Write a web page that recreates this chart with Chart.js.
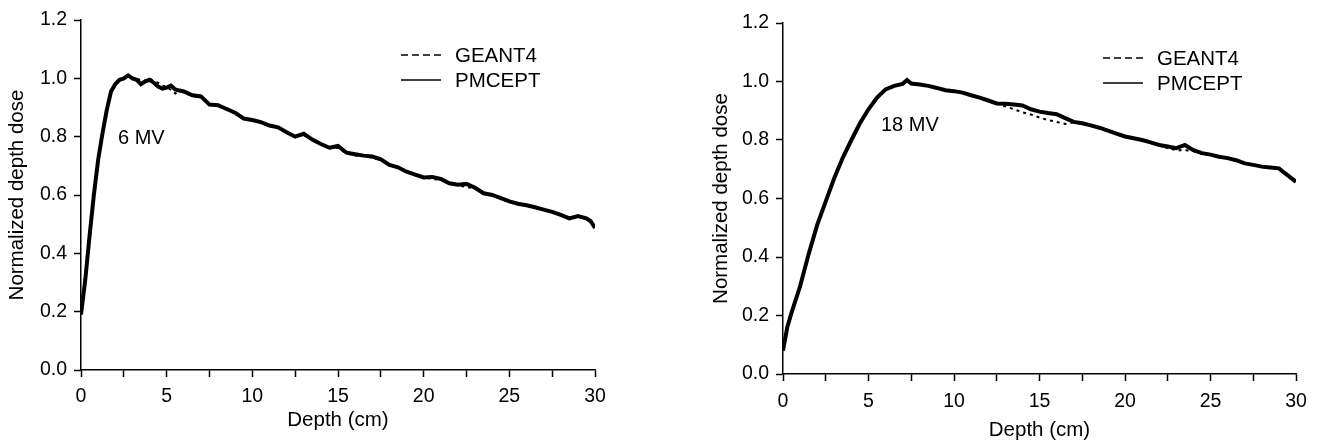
<!DOCTYPE html>
<html>
<head>
<meta charset="utf-8">
<script src="https://cdn.jsdelivr.net/npm/chart.js@4.4.1/dist/chart.umd.min.js"></script>
<style>
  html, body { margin: 0; padding: 0; background: #fff; }
  body { width: 1319px; height: 446px; position: relative; overflow: hidden; font-family: "Liberation Sans", Arial, sans-serif; color: #000; }
  .panel { position: absolute; top: 0; height: 446px; }
  .note { position: absolute; font-size: 20px; line-height: 20px; white-space: nowrap; }
  .legend-row { position: absolute; display: flex; align-items: center; font-size: 20.5px; line-height: 20px; white-space: nowrap; }
  .legend-row svg { margin-right: 14px; }
</style>
</head>
<body>
<div class="panel" style="left:0;width:640px"><canvas id="chart-6mv"></canvas></div>
<div class="panel" style="left:640px;width:679px"><canvas id="chart-18mv"></canvas></div>

<div class="note" style="left:118px;top:127px">6 MV</div>
<div class="note" style="left:881px;top:114px">18 MV</div>

<div class="legend-row" style="left:401px;top:45px"><svg width="40" height="4"><line x1="0" y1="2" x2="40" y2="2" stroke="#000" stroke-width="1.6" stroke-dasharray="7,4"/></svg>GEANT4</div>
<div class="legend-row" style="left:401px;top:70px"><svg width="40" height="4"><line x1="0" y1="2" x2="40" y2="2" stroke="#000" stroke-width="1.6"/></svg>PMCEPT</div>
<div class="legend-row" style="left:1103px;top:48px"><svg width="40" height="4"><line x1="0" y1="2" x2="40" y2="2" stroke="#000" stroke-width="1.6" stroke-dasharray="7,4"/></svg>GEANT4</div>
<div class="legend-row" style="left:1103px;top:73px"><svg width="40" height="4"><line x1="0" y1="2" x2="40" y2="2" stroke="#000" stroke-width="1.6"/></svg>PMCEPT</div>

<script>
// 6 MV depth dose (depth in cm)
const depth6 = [0, 0.25, 0.5, 0.75, 1, 1.25, 1.5, 1.75, 2, 2.25, 2.5, 2.75, 3, 3.25, 3.5, 3.75, 4, 4.25, 4.5, 4.75, 5, 5.25, 5.5, 5.75, 6,
  6.5, 7, 7.5, 8, 8.5, 9, 9.5, 10, 10.5, 11, 11.5, 12, 12.5, 13, 13.5, 14, 14.5, 15, 15.5, 16, 16.5, 17, 17.5, 18, 18.5,
  19, 19.5, 20, 20.5, 21, 21.5, 22, 22.5, 23, 23.5, 24, 24.5, 25, 25.5, 26, 26.5, 27, 27.5, 28, 28.5, 29, 29.5, 29.75, 30];
const pmcept6 = [0.19, 0.31, 0.46, 0.60, 0.72, 0.81, 0.89, 0.955, 0.98, 0.995, 1.0, 1.01, 1.0, 0.995, 0.98, 0.99, 0.995, 0.985, 0.972, 0.965, 0.968, 0.975, 0.962, 0.958, 0.955,
  0.942, 0.938, 0.91, 0.908, 0.895, 0.882, 0.862, 0.857, 0.85, 0.838, 0.832, 0.815, 0.8, 0.81, 0.79, 0.775, 0.762, 0.768, 0.745, 0.74, 0.735, 0.732, 0.722, 0.703, 0.695,
  0.68, 0.67, 0.66, 0.662, 0.655, 0.64, 0.635, 0.638, 0.625, 0.606, 0.6, 0.589, 0.578, 0.57, 0.565, 0.558, 0.55, 0.542, 0.532, 0.52, 0.528, 0.52, 0.51, 0.487];
const geant6 = [0.19, 0.31, 0.46, 0.60, 0.72, 0.81, 0.89, 0.955, 0.98, 0.995, 1.0, 1.008, 1.0, 0.998, 0.995, 0.992, 1.0, 0.99, 0.985, 0.975, 0.972, 0.96, 0.948, 0.955, 0.952,
  0.94, 0.935, 0.912, 0.905, 0.893, 0.878, 0.866, 0.855, 0.848, 0.836, 0.83, 0.814, 0.803, 0.806, 0.79, 0.774, 0.76, 0.762, 0.742, 0.735, 0.734, 0.728, 0.72, 0.702, 0.694,
  0.68, 0.668, 0.66, 0.655, 0.652, 0.64, 0.633, 0.628, 0.622, 0.606, 0.598, 0.588, 0.578, 0.57, 0.564, 0.556, 0.549, 0.54, 0.53, 0.522, 0.525, 0.518, 0.508, 0.49];

// 18 MV depth dose
const depth18 = [0, 0.25, 0.5, 1, 1.5, 2, 2.5, 3, 3.5, 4, 4.5, 5, 5.5, 6, 6.5, 7, 7.25, 7.5,
  8, 8.5, 9, 9.5, 10, 10.5, 11, 11.5, 12, 12.5, 13, 13.5, 14, 14.5, 15, 15.5, 16, 16.5, 17, 17.5, 18, 18.5,
  19, 19.5, 20, 20.5, 21, 21.5, 22, 22.5, 23, 23.5, 24, 24.5, 25, 25.5, 26, 26.5, 27, 27.5, 28, 28.5, 29, 29.5, 30];
const pmcept18 = [0.08, 0.16, 0.21, 0.30, 0.41, 0.51, 0.59, 0.67, 0.74, 0.80, 0.857, 0.905, 0.945, 0.973, 0.985, 0.992, 1.005, 0.993,
  0.99, 0.985, 0.978, 0.97, 0.967, 0.962, 0.953, 0.945, 0.935, 0.925, 0.924, 0.921, 0.918, 0.905, 0.897, 0.892, 0.888, 0.875, 0.862, 0.857, 0.85, 0.842,
  0.832, 0.822, 0.812, 0.806, 0.8, 0.792, 0.783, 0.778, 0.772, 0.783, 0.765, 0.755, 0.75, 0.743, 0.738, 0.731, 0.72, 0.715, 0.709, 0.706, 0.703, 0.68, 0.657];
const geant18 = [0.08, 0.16, 0.21, 0.30, 0.41, 0.51, 0.59, 0.67, 0.74, 0.80, 0.857, 0.905, 0.945, 0.973, 0.985, 0.992, 1.0, 0.993,
  0.99, 0.984, 0.977, 0.97, 0.966, 0.96, 0.952, 0.944, 0.934, 0.924, 0.915, 0.905, 0.895, 0.887, 0.877, 0.868, 0.862, 0.855, 0.86, 0.855, 0.848, 0.84,
  0.83, 0.82, 0.81, 0.804, 0.798, 0.79, 0.782, 0.772, 0.765, 0.765, 0.762, 0.753, 0.748, 0.742, 0.736, 0.728, 0.72, 0.714, 0.708, 0.704, 0.7, 0.68, 0.657];

const yTicks = [0, 0.2, 0.4, 0.6, 0.8, 1.0, 1.2];
const xTicks = [0, 2.5, 5, 7.5, 10, 12.5, 15, 17.5, 20, 22.5, 25, 27.5, 30];

const FONT = '"Liberation Sans", Arial, sans-serif';

function toPoints(xs, ys) {
  return xs.map((x, i) => ({ x, y: ys[i] }));
}

function makeChart(id, xs, pm, ge, opts) {
  const ctx = document.getElementById(id);
  return new Chart(ctx, {
    type: 'line',
    data: {
      datasets: [
        { label: 'PMCEPT', data: toPoints(xs, pm), borderColor: '#000', borderWidth: 4, pointRadius: 0, tension: 0 },
        { label: 'GEANT4', data: toPoints(xs, ge), borderColor: '#000', borderWidth: 2, borderDash: [3, 4], pointRadius: 0, tension: 0 }
      ]
    },
    options: {
      responsive: true,
      maintainAspectRatio: false,
      animation: false,
      layout: { padding: { left: opts.padLeft, right: opts.padRight, top: opts.padTop, bottom: 0 } },
      plugins: { legend: { display: false }, tooltip: { enabled: false } },
      scales: {
        x: {
          type: 'linear',
          min: 0,
          max: 30,
          afterFit: s => { s.height = opts.xHeight; },
          afterBuildTicks: s => { s.ticks = xTicks.map(v => ({ value: v })); },
          ticks: {
            autoSkip: false,
            maxRotation: 0,
            padding: opts.xTickPad,
            color: '#000',
            font: { family: FONT, size: 19.5 },
            callback: v => (v % 5 === 0 ? String(v) : '')
          },
          grid: { drawOnChartArea: false, tickLength: 7, tickColor: '#000', tickWidth: 1.5 },
          border: { display: true, color: '#000', width: 1.5 },
          title: { display: true, text: 'Depth (cm)', color: '#000', font: { family: FONT, size: 20.5 }, padding: { top: 0, bottom: opts.xTitlePad } }
        },
        y: {
          min: 0,
          max: 1.2,
          afterFit: s => { s.width = 81; },
          afterBuildTicks: s => { s.ticks = yTicks.map(v => ({ value: v })); },
          ticks: {
            padding: 7,
            color: '#000',
            font: { family: FONT, size: 19.5 },
            callback: v => v.toFixed(1)
          },
          grid: { drawOnChartArea: false, tickLength: 7, tickColor: '#000', tickWidth: 1.5 },
          border: { display: true, color: '#000', width: 1.5 },
          title: { display: true, text: 'Normalized depth dose', color: '#000', font: { family: FONT, size: 20.5 }, padding: { top: opts.yTitlePad, bottom: 0 } }
        }
      }
    }
  });
}

makeChart('chart-6mv', depth6, pmcept6, geant6, { padLeft: 0, padRight: 45, padTop: 20, xHeight: 76, xTickPad: 8, xTitlePad: 13, yTitlePad: 5 });
makeChart('chart-18mv', depth18, pmcept18, geant18, { padLeft: 62, padRight: 23, padTop: 23, xHeight: 72, xTickPad: 9, xTitlePad: 3, yTitlePad: 7 });
</script>
</body>
</html>
